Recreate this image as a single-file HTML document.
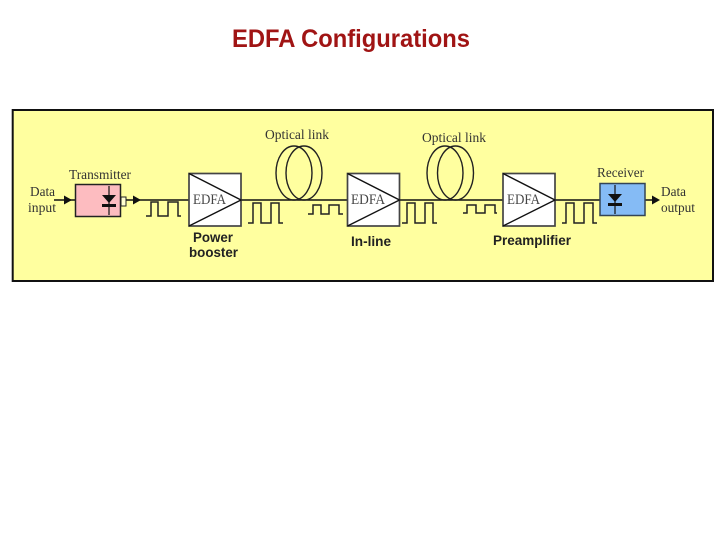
<!DOCTYPE html>
<html><head><meta charset="utf-8">
<style>
html,body{margin:0;padding:0;background:#fff;width:720px;height:540px;overflow:hidden}
svg{display:block}
.s{font-family:"Liberation Serif",serif;font-size:13.5px;fill:#333}
.b{font-family:"Liberation Sans",sans-serif;font-size:13.5px;font-weight:bold;fill:#222}
.e{font-family:"Liberation Serif",serif;font-size:15px;fill:#444}
.p{fill:none;stroke:#222;stroke-width:1.5}
</style></head><body>
<svg width="720" height="540" viewBox="0 0 720 540" xmlns="http://www.w3.org/2000/svg">
<text x="351" y="47" text-anchor="middle" font-family="'Liberation Sans',sans-serif" font-size="25" font-weight="bold" fill="#a01414" textLength="238" lengthAdjust="spacingAndGlyphs">EDFA Configurations</text>
<rect x="12.7" y="110" width="700.3" height="171" fill="#ffff9f" stroke="#111" stroke-width="2"/>

<!-- main line -->
<path d="M54 200H75M126 200H189M241 200H347M399 200H503M555 200H600M645 200H655" stroke="#111" stroke-width="1.5" fill="none"/>
<path d="M64 195.500L72 200L64 204.500Z" fill="#111"/>
<path d="M133 195.500L141 200L133 204.500Z" fill="#111"/>
<path d="M652 195.500L660 200L652 204.500Z" fill="#111"/>

<!-- transmitter -->
<rect x="75.500" y="184.500" width="45" height="32" fill="#fdbcc0" stroke="#222" stroke-width="1.5"/>
<rect x="121" y="197" width="5" height="9" fill="#ffffd0" stroke="#222"/>
<path d="M109 186V215" stroke="#111" stroke-width="1.2"/>
<path d="M102 195H116L109 203Z" fill="#111"/>
<rect x="102" y="204" width="14" height="3" fill="#111"/>

<!-- receiver -->
<rect x="600" y="183.500" width="45" height="32" fill="#85bbf5" stroke="#345" stroke-width="1.5"/>
<path d="M615 185V214" stroke="#111" stroke-width="1.2"/>
<path d="M608 194H622L615 202Z" fill="#111"/>
<rect x="608" y="203" width="14" height="3" fill="#111"/>

<!-- EDFA boxes -->
<g fill="#fff" stroke="#444" stroke-width="1.7">
<rect x="189" y="173.500" width="52" height="52.500"/>
<rect x="347.500" y="173.500" width="52" height="52.500"/>
<rect x="503" y="173.500" width="52" height="52.500"/>
</g>
<g fill="none" stroke="#111" stroke-width="1.4">
<path d="M189 173.500L241 200L189 226"/>
<path d="M347.500 173.500L399.500 200L347.500 226"/>
<path d="M503 173.500L555 200L503 226"/>
</g>
<text class="e" x="193" y="204" textLength="33" lengthAdjust="spacingAndGlyphs">EDFA</text>
<text class="e" x="351" y="204" textLength="34" lengthAdjust="spacingAndGlyphs">EDFA</text>
<text class="e" x="507" y="204" textLength="33" lengthAdjust="spacingAndGlyphs">EDFA</text>

<!-- fibre loops -->
<g fill="none" stroke="#222" stroke-width="1.4">
<ellipse cx="294" cy="173" rx="18" ry="27"/>
<ellipse cx="304" cy="173" rx="18" ry="27"/>
<ellipse cx="445" cy="173" rx="18" ry="27"/>
<ellipse cx="455.500" cy="173" rx="18" ry="27"/>
</g>

<!-- pulses -->
<path class="p" d="M146 216H151V202H158V216H168V202H178V216H181"/>
<path class="p" d="M248 223H253V203H261V223H271V203H279V223H283"/>
<path class="p" d="M308 214H313V205H321V214H329V205H339V214H343"/>
<path class="p" d="M402 223H407V203H415V223H425V203H433V223H437"/>
<path class="p" d="M463 213H467V205H476V213H485V205H495V213H497"/>
<path class="p" d="M562 223H566V203H574V223H584V203H593V223H597"/>

<!-- labels -->
<text class="s" x="69" y="179" textLength="62" lengthAdjust="spacingAndGlyphs">Transmitter</text>
<text class="s" x="30" y="196" textLength="25" lengthAdjust="spacingAndGlyphs">Data</text>
<text class="s" x="28" y="212" textLength="28" lengthAdjust="spacingAndGlyphs">input</text>
<text class="s" x="265" y="139" textLength="64" lengthAdjust="spacingAndGlyphs">Optical link</text>
<text class="s" x="422" y="142" textLength="64" lengthAdjust="spacingAndGlyphs">Optical link</text>
<text class="s" x="597" y="177" textLength="47" lengthAdjust="spacingAndGlyphs">Receiver</text>
<text class="s" x="661" y="196" textLength="25" lengthAdjust="spacingAndGlyphs">Data</text>
<text class="s" x="661" y="212" textLength="34" lengthAdjust="spacingAndGlyphs">output</text>
<text class="b" x="193" y="242" textLength="40" lengthAdjust="spacingAndGlyphs">Power</text>
<text class="b" x="189" y="257" textLength="49" lengthAdjust="spacingAndGlyphs">booster</text>
<text class="b" x="351" y="246" textLength="40" lengthAdjust="spacingAndGlyphs">In-line</text>
<text class="b" x="493" y="245" textLength="78" lengthAdjust="spacingAndGlyphs">Preamplifier</text>
</svg>
</body></html>
